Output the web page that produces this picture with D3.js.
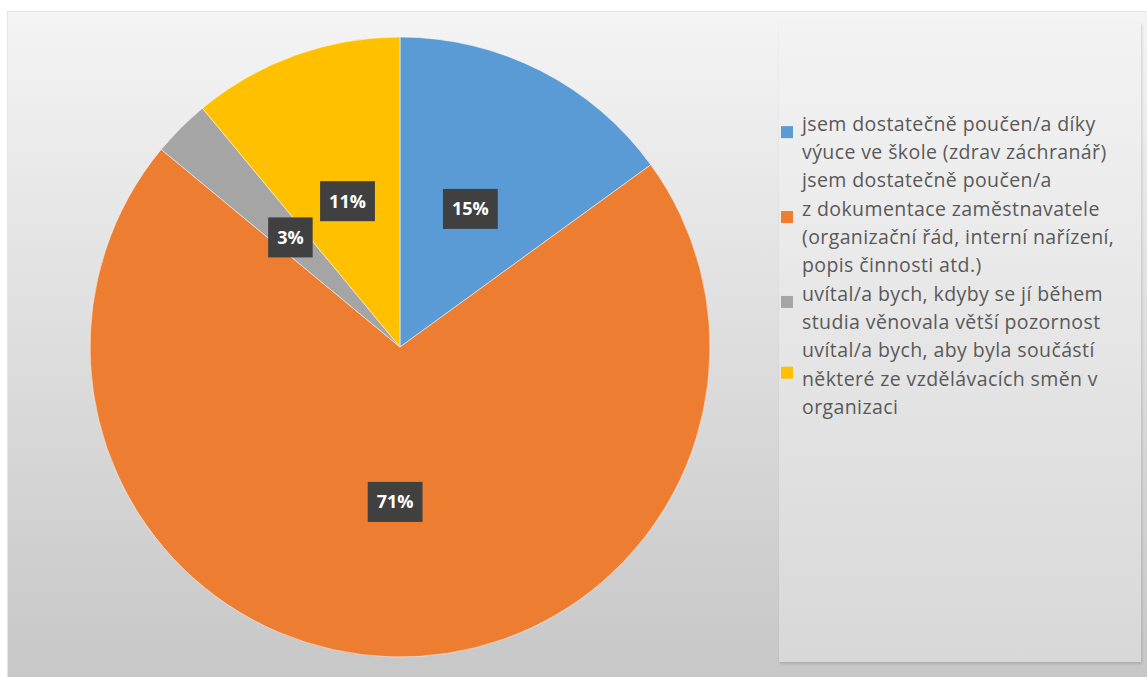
<!DOCTYPE html>
<html>
<head>
<meta charset="utf-8">
<script src="https://cdn.jsdelivr.net/npm/d3@7"></script>
<style>
  html, body { margin: 0; padding: 0; background: #ffffff; }
  svg { display: block; }
</style>
</head>
<body>
<svg id="chart" width="1147" height="677"></svg>
<script>
// Answer categories (legend order) and their shares in percent
const categories = [
  "jsem dostatečně poučen/a díky výuce ve škole (zdrav záchranář)",
  "jsem dostatečně poučen/a z dokumentace zaměstnavatele (organizační řád, interní nařízení, popis činnosti atd.)",
  "uvítal/a bych, kdyby se jí během studia věnovala větší pozornost",
  "uvítal/a bych, aby byla součástí některé ze vzdělávacích směn v organizaci"
];
const values = [15, 71, 3, 11];
const colors = ["#5B9BD5", "#ED7D31", "#A5A5A5", "#FFC000"];
// Legend text as it wraps in the legend box
const legendLines = [
  ["jsem dostatečně poučen/a díky", "výuce ve škole (zdrav záchranář)"],
  ["jsem dostatečně poučen/a", "z dokumentace zaměstnavatele", "(organizační řád, interní nařízení,", "popis činnosti atd.)"],
  ["uvítal/a bych, kdyby se jí během", "studia věnovala větší pozornost"],
  ["uvítal/a bych, aby byla součástí", "některé ze vzdělávacích směn v", "organizaci"]
];

const svg = d3.select("#chart");
const defs = svg.append("defs");

const bgGrad = defs.append("linearGradient").attr("id", "bgGrad")
  .attr("x1", 0).attr("y1", 0).attr("x2", 0).attr("y2", 1);
bgGrad.append("stop").attr("offset", "0%").attr("stop-color", "#f4f4f4");
bgGrad.append("stop").attr("offset", "100%").attr("stop-color", "#c7c7c7");

const lgGrad = defs.append("linearGradient").attr("id", "lgGrad")
  .attr("x1", 0).attr("y1", 0).attr("x2", 0).attr("y2", 1);
lgGrad.append("stop").attr("offset", "0%").attr("stop-color", "#f3f3f3");
lgGrad.append("stop").attr("offset", "100%").attr("stop-color", "#d8d8d8");

const shadow = defs.append("filter").attr("id", "shadow")
  .attr("x", "-5%").attr("y", "-5%").attr("width", "110%").attr("height", "110%");
shadow.append("feDropShadow").attr("dx", 1).attr("dy", 2).attr("stdDeviation", 1.5)
  .attr("flood-color", "#000").attr("flood-opacity", 0.14);

// Chart area
svg.append("rect").attr("x", 7).attr("y", 11).attr("width", 1140).attr("height", 666)
  .attr("fill", "url(#bgGrad)");
svg.append("line").attr("x1", 7.5).attr("x2", 7.5).attr("y1", 11).attr("y2", 677)
  .attr("stroke", "#e6e6e6").attr("stroke-width", 1);
svg.append("line").attr("x1", 7).attr("x2", 1147).attr("y1", 11.5).attr("y2", 11.5)
  .attr("stroke", "#e4e4e4").attr("stroke-width", 1);

// Pie
const cx = 400, cy = 347, R = 310;
const pie = d3.pie().value(d => d).sort(null);
const arcs = pie(values);
const arc = d3.arc().innerRadius(0).outerRadius(R);
const labelArc = d3.arc().innerRadius(0).outerRadius(R);

const g = svg.append("g").attr("transform", `translate(${cx},${cy})`);
g.selectAll("path.slice").data(arcs).join("path")
  .attr("class", "slice")
  .attr("d", arc)
  .attr("fill", (d, i) => colors[i])
  .attr("stroke", "#ffffff").attr("stroke-opacity", 0.5).attr("stroke-width", 1);

// Data labels in dark boxes at each slice centroid
const labels = g.selectAll("g.lbl").data(arcs).join("g")
  .attr("class", "lbl")
  .attr("transform", d => `translate(${labelArc.centroid(d)})`);
labels.each(function(d) {
  const sel = d3.select(this);
  const t = sel.append("text")
    .attr("text-anchor", "middle").attr("dy", "0.36em")
    .attr("font-family", "'Open Sans', 'DejaVu Sans', sans-serif")
    .attr("font-weight", 700).attr("font-size", 18)
    .attr("fill", "#ffffff")
    .text(d.data + "%");
  const w = t.node().getComputedTextLength() + 18;
  const h = 40;
  sel.insert("rect", "text")
    .attr("x", -w / 2).attr("y", -h / 2).attr("width", w).attr("height", h)
    .attr("fill", "#404040");
});

// Legend box
svg.append("rect").attr("x", 779).attr("y", 22).attr("width", 362).attr("height", 640)
  .attr("fill", "url(#lgGrad)").attr("filter", "url(#shadow)");

const lineH = 28.3;
const textX = 802;
const firstLine = 124;
const legend = svg.append("g");
let idx = 0;
categories.forEach((c, i) => {
  const lines = legendLines[i];
  const start = idx;
  lines.forEach((ln, j) => {
    legend.append("text")
      .attr("x", textX).attr("y", firstLine + (idx + j) * lineH)
      .attr("dy", "0.35em")
      .attr("font-family", "'Open Sans', 'DejaVu Sans', sans-serif")
      .attr("font-size", 19.5)
      .attr("letter-spacing", 0.4)
      .attr("fill", "#595959")
      .text(ln);
  });
  idx += lines.length;
  const mid = firstLine + (start + (lines.length - 1) / 2) * lineH - 6;
  legend.append("rect")
    .attr("x", 781).attr("y", mid - 6).attr("width", 12).attr("height", 12)
    .attr("fill", colors[i]);
});
</script>
</body>
</html>
